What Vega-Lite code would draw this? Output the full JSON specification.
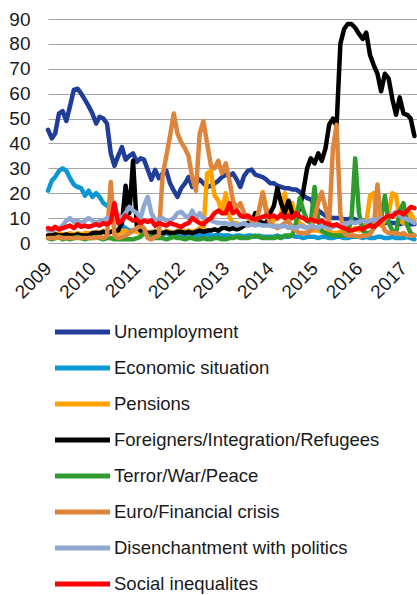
{
  "$schema": "https://vega.github.io/schema/vega-lite/v6.json",
  "width": 369,
  "height": 224,
  "autosize": {"type": "none"},
  "padding": {"left": 48, "top": 19, "right": 0, "bottom": 352},
  "background": "white",
  "config": {"view": {"stroke": null}, "font": "Liberation Sans"},
  "datasets": {
    "names": [
      {"k": "U", "name": "Unemployment"},
      {"k": "E", "name": "Economic situation"},
      {"k": "P", "name": "Pensions"},
      {"k": "F", "name": "Foreigners/Integration/Refugees"},
      {"k": "T", "name": "Terror/War/Peace"},
      {"k": "X", "name": "Euro/Financial crisis"},
      {"k": "D", "name": "Disenchantment with politics"},
      {"k": "S", "name": "Social inequalites"}
    ]
  },
  "data": {"values": [
    {"d":"2009-01-01","U":45.5,"E":21,"P":3,"F":3,"T":2,"X":2,"D":5,"S":6},
    {"d":"2009-02-01","U":42,"E":25,"P":3.5,"F":3,"T":1.5,"X":2,"D":5,"S":5.5},
    {"d":"2009-03-01","U":44,"E":26.5,"P":3,"F":3.5,"T":2,"X":2,"D":5.5,"S":6.5},
    {"d":"2009-04-01","U":52,"E":29,"P":4,"F":3,"T":2.5,"X":2.5,"D":6,"S":5.5},
    {"d":"2009-05-01","U":53,"E":30,"P":3.5,"F":3,"T":1.5,"X":2,"D":7,"S":6},
    {"d":"2009-06-01","U":49,"E":29,"P":3,"F":3.5,"T":2,"X":2,"D":9,"S":6.5},
    {"d":"2009-07-01","U":55,"E":26,"P":4,"F":3,"T":1.5,"X":2,"D":10,"S":7},
    {"d":"2009-08-01","U":61.5,"E":23.5,"P":3.5,"F":3,"T":2,"X":2,"D":8.5,"S":6},
    {"d":"2009-09-01","U":62,"E":22.5,"P":4,"F":3.5,"T":2.5,"X":2,"D":9,"S":7.5},
    {"d":"2009-10-01","U":60,"E":22,"P":3.5,"F":3,"T":2,"X":2,"D":8,"S":6.5},
    {"d":"2009-11-01","U":57.5,"E":19,"P":4,"F":3,"T":1.5,"X":2,"D":9,"S":7},
    {"d":"2009-12-01","U":55,"E":21,"P":4,"F":3,"T":2,"X":2,"D":10,"S":6.5},
    {"d":"2010-01-01","U":52,"E":18.5,"P":4,"F":4,"T":2,"X":2,"D":9,"S":7},
    {"d":"2010-02-01","U":48,"E":20,"P":4.5,"F":4,"T":2.5,"X":2,"D":8,"S":7.5},
    {"d":"2010-03-01","U":50.7,"E":18.5,"P":4,"F":4,"T":2,"X":2.5,"D":9,"S":7},
    {"d":"2010-04-01","U":50,"E":16,"P":5,"F":4.5,"T":1.5,"X":2,"D":9,"S":8},
    {"d":"2010-05-01","U":48,"E":15,"P":4,"F":4,"T":2,"X":3,"D":10,"S":7.5},
    {"d":"2010-06-01","U":36,"E":14,"P":4.5,"F":4.5,"T":2,"X":24.5,"D":10.5,"S":8.5},
    {"d":"2010-07-01","U":31,"E":13,"P":5,"F":5,"T":1.5,"X":3,"D":12,"S":16},
    {"d":"2010-08-01","U":35,"E":9,"P":4,"F":5,"T":1.5,"X":2,"D":11,"S":8},
    {"d":"2010-09-01","U":38.5,"E":7,"P":4.5,"F":8,"T":1.5,"X":2.5,"D":10,"S":9},
    {"d":"2010-10-01","U":33.5,"E":6,"P":5,"F":23,"T":1.5,"X":3,"D":12,"S":11},
    {"d":"2010-11-01","U":35,"E":5,"P":4,"F":12,"T":1.5,"X":4,"D":14.5,"S":10},
    {"d":"2010-12-01","U":36,"E":5,"P":5,"F":33,"T":1.5,"X":5,"D":13,"S":9},
    {"d":"2011-01-01","U":32.6,"E":5,"P":4.5,"F":7,"T":2,"X":6,"D":12,"S":9.5},
    {"d":"2011-02-01","U":34,"E":4.5,"P":4,"F":5,"T":2.5,"X":7,"D":10,"S":8},
    {"d":"2011-03-01","U":33.5,"E":5,"P":5,"F":4.5,"T":4,"X":6,"D":15,"S":9},
    {"d":"2011-04-01","U":29.4,"E":4,"P":4.5,"F":4,"T":3,"X":2,"D":18.5,"S":8.5},
    {"d":"2011-05-01","U":25.4,"E":4.5,"P":4,"F":4,"T":2.5,"X":1.5,"D":12,"S":9},
    {"d":"2011-06-01","U":29.4,"E":4,"P":5,"F":4.5,"T":2,"X":2.5,"D":9,"S":7},
    {"d":"2011-07-01","U":26,"E":4,"P":4.5,"F":4,"T":2,"X":3,"D":9.5,"S":8},
    {"d":"2011-08-01","U":28,"E":3.5,"P":4,"F":4,"T":2,"X":27,"D":10,"S":7.5},
    {"d":"2011-09-01","U":29,"E":4,"P":5,"F":4.5,"T":1.5,"X":35,"D":9,"S":7},
    {"d":"2011-10-01","U":24,"E":3.5,"P":4.5,"F":4,"T":2,"X":43,"D":9,"S":8},
    {"d":"2011-11-01","U":21,"E":4,"P":4,"F":4,"T":2.5,"X":52,"D":10,"S":7.5},
    {"d":"2011-12-01","U":18.5,"E":3.5,"P":5,"F":4.5,"T":2,"X":44,"D":12,"S":7},
    {"d":"2012-01-01","U":22,"E":3.5,"P":5,"F":4.5,"T":2,"X":40.5,"D":12.5,"S":6.5},
    {"d":"2012-02-01","U":24,"E":3,"P":4.5,"F":4,"T":1.5,"X":38,"D":11,"S":7.5},
    {"d":"2012-03-01","U":26.5,"E":3.5,"P":5,"F":4.5,"T":2,"X":35,"D":10,"S":8},
    {"d":"2012-04-01","U":22.5,"E":3,"P":4.5,"F":4,"T":2,"X":26,"D":13,"S":10},
    {"d":"2012-05-01","U":24,"E":3.5,"P":5,"F":4.5,"T":1.5,"X":21,"D":10,"S":9},
    {"d":"2012-06-01","U":25.5,"E":3,"P":6,"F":5,"T":1.5,"X":44,"D":12,"S":8},
    {"d":"2012-07-01","U":24,"E":3,"P":5,"F":4.5,"T":2,"X":49,"D":10,"S":7.5},
    {"d":"2012-08-01","U":22.5,"E":3.5,"P":28,"F":5,"T":1.5,"X":40,"D":9.5,"S":9},
    {"d":"2012-09-01","U":23,"E":3,"P":29,"F":5,"T":1.5,"X":31,"D":9,"S":10},
    {"d":"2012-10-01","U":24,"E":3,"P":19,"F":5.5,"T":2,"X":30,"D":8.5,"S":12},
    {"d":"2012-11-01","U":25,"E":3.5,"P":17,"F":5,"T":2,"X":33,"D":8,"S":13},
    {"d":"2012-12-01","U":26.5,"E":3,"P":12,"F":6,"T":1.5,"X":28,"D":8,"S":12},
    {"d":"2013-01-01","U":27.5,"E":3,"P":20,"F":6,"T":1.5,"X":32,"D":8,"S":12},
    {"d":"2013-02-01","U":27,"E":3,"P":10.5,"F":5.5,"T":2,"X":25,"D":7.5,"S":16},
    {"d":"2013-03-01","U":28,"E":2.5,"P":8,"F":6,"T":2,"X":17,"D":8,"S":12},
    {"d":"2013-04-01","U":25.5,"E":3,"P":8,"F":5.5,"T":2.5,"X":14,"D":7,"S":13},
    {"d":"2013-05-01","U":22.5,"E":3,"P":7,"F":6,"T":2,"X":16,"D":7.5,"S":11},
    {"d":"2013-06-01","U":27,"E":2.5,"P":7,"F":7,"T":2,"X":12,"D":8,"S":10.5},
    {"d":"2013-07-01","U":29,"E":3,"P":8,"F":8,"T":2,"X":10,"D":7,"S":11},
    {"d":"2013-08-01","U":29.5,"E":3,"P":9,"F":8,"T":2.5,"X":9,"D":7.5,"S":10},
    {"d":"2013-09-01","U":27.5,"E":2.5,"P":10,"F":12,"T":3,"X":8,"D":7,"S":9.5},
    {"d":"2013-10-01","U":27,"E":3,"P":13,"F":9,"T":2.5,"X":13,"D":7.5,"S":10},
    {"d":"2013-11-01","U":26.5,"E":2.5,"P":20.5,"F":8,"T":2,"X":20,"D":7,"S":10.5},
    {"d":"2013-12-01","U":25.5,"E":2.5,"P":14,"F":8,"T":2,"X":12,"D":7,"S":11},
    {"d":"2014-01-01","U":24,"E":2.5,"P":10,"F":12,"T":2,"X":8,"D":7,"S":10.5},
    {"d":"2014-02-01","U":24,"E":2.5,"P":9,"F":15,"T":2,"X":7,"D":6.5,"S":11},
    {"d":"2014-03-01","U":23,"E":3,"P":10,"F":22,"T":2.5,"X":6,"D":7,"S":10},
    {"d":"2014-04-01","U":22.5,"E":2.5,"P":11,"F":16,"T":2,"X":7,"D":6.5,"S":11.5},
    {"d":"2014-05-01","U":22,"E":2.5,"P":20,"F":12,"T":3,"X":8,"D":7,"S":10},
    {"d":"2014-06-01","U":22,"E":2.5,"P":12,"F":17,"T":3,"X":9,"D":6,"S":11},
    {"d":"2014-07-01","U":21.5,"E":3,"P":16,"F":12,"T":3,"X":6,"D":6.5,"S":10},
    {"d":"2014-08-01","U":21.5,"E":2.5,"P":10,"F":11,"T":8,"X":5,"D":6,"S":12},
    {"d":"2014-09-01","U":20.5,"E":2.5,"P":8,"F":14,"T":18,"X":4,"D":7,"S":10.5},
    {"d":"2014-10-01","U":19,"E":2,"P":7,"F":21,"T":13,"X":4,"D":6.5,"S":10},
    {"d":"2014-11-01","U":18,"E":2.5,"P":6,"F":30,"T":9,"X":4,"D":6,"S":9},
    {"d":"2014-12-01","U":17.5,"E":2.5,"P":5,"F":34,"T":8,"X":5,"D":7,"S":9.5},
    {"d":"2015-01-01","U":15,"E":2.5,"P":5,"F":32,"T":22.5,"X":10,"D":6.5,"S":9},
    {"d":"2015-02-01","U":13,"E":2,"P":5,"F":36,"T":9,"X":16.5,"D":6,"S":8.5},
    {"d":"2015-03-01","U":12,"E":2.5,"P":4.5,"F":33,"T":5,"X":20.5,"D":7,"S":9},
    {"d":"2015-04-01","U":11,"E":2.5,"P":4.5,"F":38,"T":4,"X":14,"D":6.5,"S":8},
    {"d":"2015-05-01","U":10.5,"E":2,"P":5,"F":47.5,"T":3.5,"X":8.5,"D":6,"S":7.5},
    {"d":"2015-06-01","U":10,"E":2,"P":4,"F":50,"T":3,"X":38,"D":6.5,"S":7},
    {"d":"2015-07-01","U":10,"E":2.5,"P":4,"F":47,"T":3,"X":47.5,"D":7,"S":7.5},
    {"d":"2015-08-01","U":10,"E":2.5,"P":4.5,"F":80,"T":3,"X":12,"D":7,"S":6.5},
    {"d":"2015-09-01","U":9.5,"E":2,"P":5,"F":86,"T":3,"X":4,"D":7.5,"S":6},
    {"d":"2015-10-01","U":9.5,"E":2,"P":6,"F":88,"T":4,"X":3,"D":8,"S":5.5},
    {"d":"2015-11-01","U":10,"E":2.5,"P":5,"F":88,"T":10,"X":3,"D":8.5,"S":5},
    {"d":"2015-12-01","U":9.5,"E":2.5,"P":6,"F":86.5,"T":34,"X":3,"D":8,"S":5.5},
    {"d":"2016-01-01","U":9,"E":2.5,"P":5,"F":84,"T":12,"X":2.5,"D":8.5,"S":6},
    {"d":"2016-02-01","U":9,"E":2,"P":6,"F":82,"T":5,"X":3,"D":9,"S":5.5},
    {"d":"2016-03-01","U":9,"E":2.5,"P":8,"F":84.5,"T":4,"X":3,"D":8.5,"S":6.5},
    {"d":"2016-04-01","U":8.5,"E":2,"P":19,"F":75.5,"T":4,"X":3.5,"D":9,"S":7},
    {"d":"2016-05-01","U":8.5,"E":2,"P":20,"F":71.5,"T":6,"X":6,"D":9.5,"S":6.5},
    {"d":"2016-06-01","U":8,"E":2.5,"P":8,"F":68,"T":8,"X":23.5,"D":9,"S":7.5},
    {"d":"2016-07-01","U":8,"E":2.5,"P":7,"F":61,"T":10,"X":8.5,"D":10,"S":9},
    {"d":"2016-08-01","U":8,"E":2,"P":9,"F":68,"T":19,"X":5,"D":9.5,"S":10},
    {"d":"2016-09-01","U":8.5,"E":2,"P":12,"F":66,"T":8,"X":4,"D":11,"S":11},
    {"d":"2016-10-01","U":8,"E":2.5,"P":20,"F":58,"T":5,"X":4,"D":11.5,"S":10.5},
    {"d":"2016-11-01","U":8,"E":2,"P":19,"F":51.5,"T":4,"X":4,"D":12.5,"S":12},
    {"d":"2016-12-01","U":7.5,"E":2,"P":9,"F":58.5,"T":13,"X":3.5,"D":11,"S":12.5},
    {"d":"2017-01-01","U":8,"E":2,"P":8,"F":52,"T":16,"X":4,"D":10,"S":11.5},
    {"d":"2017-02-01","U":8,"E":2.5,"P":10,"F":51.5,"T":7,"X":3,"D":9.5,"S":13},
    {"d":"2017-03-01","U":7.5,"E":2,"P":12,"F":50,"T":4,"X":3,"D":9,"S":14.5},
    {"d":"2017-04-01","U":7.5,"E":1.5,"P":9,"F":43,"T":3,"X":3,"D":8,"S":14}
  ]},
  "transform": [
    {"fold": ["U", "E", "P", "F", "T", "X", "D", "S"], "as": ["k", "v"]},
    {"lookup": "k", "from": {"data": {"name": "names"}, "key": "k", "fields": ["name"]}}
  ],
  "mark": {"type": "line", "strokeWidth": 4.5, "strokeJoin": "round", "strokeCap": "round"},
  "encoding": {
    "x": {
      "field": "d", "type": "temporal",
      "scale": {"type": "utc", "domain": [{"year": 2009, "month": 1, "date": 1, "utc": true}, {"year": 2017, "month": 4, "date": 22, "utc": true}]},
      "axis": {"title": null, "grid": false, "domain": false, "ticks": false, "tickSize": 0,
        "tickCount": {"interval": "year", "step": 1}, "format": "%Y",
        "labelAngle": -45, "labelAlign": "right", "labelBaseline": "middle", "labelPadding": 22,
        "labelFontSize": 19, "labelFont": "Liberation Sans", "labelColor": "#1a1a1a",
        "labelOverlap": false, "labelFlush": false, "labelBound": false}
    },
    "y": {
      "field": "v", "type": "quantitative",
      "scale": {"domain": [0, 90], "nice": false},
      "axis": {"title": null, "domain": false, "ticks": false, "tickSize": 0,
        "values": [0, 10, 20, 30, 40, 50, 60, 70, 80, 90],
        "grid": true, "gridColor": "#a6a6a6", "gridWidth": 1,
        "labelPadding": 18, "labelFontSize": 19, "labelFont": "Liberation Sans", "labelColor": "#1a1a1a"}
    },
    "color": {
      "field": "name", "type": "nominal",
      "scale": {
        "domain": ["Unemployment", "Economic situation", "Pensions", "Foreigners/Integration/Refugees", "Terror/War/Peace", "Euro/Financial crisis", "Disenchantment with politics", "Social inequalites"],
        "range": ["#1f3d99", "#0b96d4", "#ffa200", "#000000", "#2e9b2e", "#de843b", "#8fa8d2", "#ff0000"]
      },
      "legend": {
        "orient": "none", "legendX": 4.5, "legendY": 303, "direction": "vertical", "title": null,
        "symbolType": "stroke", "symbolSize": 3025, "symbolStrokeWidth": 5,
        "clipHeight": 20, "rowPadding": 16, "padding": 0,
        "labelFontSize": 18.5, "labelFont": "Liberation Sans", "labelColor": "#1a1a1a",
        "labelOffset": 1.5, "labelLimit": 400
      }
    }
  }
}
